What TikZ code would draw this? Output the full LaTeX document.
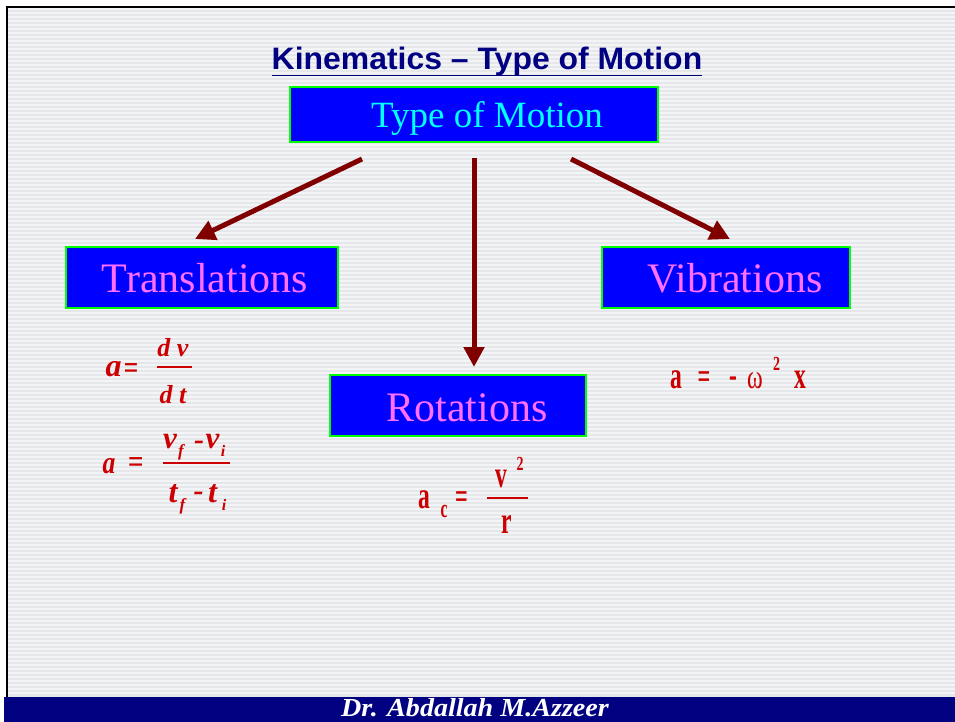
\documentclass[tikz,border=0pt]{standalone}
\usepackage{fontspec}
\usepackage{graphicx}
\setmainfont{Liberation Serif}
\newfontfamily\arialfont{Liberation Sans}
\usetikzlibrary{arrows.meta}
\definecolor{navy}{RGB}{0,0,128}
\definecolor{slidebg}{RGB}{229,231,235}
\definecolor{boxblue}{RGB}{0,0,255}
\definecolor{boxgreen}{RGB}{0,255,0}
\definecolor{cyantext}{RGB}{0,255,255}
\definecolor{pinktext}{RGB}{255,110,255}
\definecolor{arrowred}{RGB}{128,0,0}
\definecolor{eqred}{RGB}{204,0,0}
\newcommand{\cond}[2]{\scalebox{#1}[1]{#2}}
\tikzset{
  motionbox/.style={draw=boxgreen, line width=1.3pt, fill=boxblue, inner sep=0pt},
  boxlabel/.style={text=pinktext, font=\fontsize{42}{46}\selectfont, inner sep=0pt, anchor=base},
  flowarrow/.style={draw=arrowred, line width=5pt, -{Triangle[length=20pt,width=20pt]}},
  eqi/.style={text=eqred, inner sep=0pt, anchor=base, font=\bfseries\itshape\fontsize{#1}{#1}\selectfont},
  equ/.style={text=eqred, inner sep=0pt, anchor=base, font=\bfseries\fontsize{#1}{#1}\selectfont},
  eqr/.style={text=eqred, inner sep=0pt, anchor=base, font=\fontsize{#1}{#1}\selectfont},
  fracbar/.style={draw=eqred, line width=1.2pt}
}
\begin{document}
\begin{tikzpicture}[x=1pt,y=-1pt]
\useasboundingbox (0,0) rectangle (955,722);
\fill[white] (0,0) rectangle (955,722);
% slide background with stripes
\fill[slidebg] (7,8) rectangle (955,697);
\foreach \yy in {9,13,...,695} {
  \draw[white, opacity=0.55, line width=1.6pt] (8,\yy) -- (955,\yy);
}
% border
\draw[black, line width=2.2pt] (7,697) -- (7,7) -- (955,7);
% footer
\fill[navy] (4,697) rectangle (955,722);
\node[text=white, font=\bfseries\itshape\fontsize{26}{28}\selectfont, anchor=base, inner sep=0pt] (footer) at (475,716) {\cond{1.08}{Dr. Abdallah M.Azzeer}};

% title
\node[text=navy, font=\arialfont\bfseries\fontsize{31}{34}\selectfont, anchor=base, inner sep=0pt] (title) at (487,70) {\cond{1.03}{Kinematics – Type of Motion}};
\draw[navy, line width=1.6pt] (272,75.5) -- (702,75.5);

% boxes
\node[motionbox, minimum width=368pt, minimum height=55pt] (top) at (474,114.5) {};
\node[boxlabel, text=cyantext, font=\fontsize{37}{42}\selectfont] (toplbl) at (487,128) {Type of Motion};

\node[motionbox, minimum width=272pt, minimum height=61pt] (trans) at (202,277.5) {};
\node[boxlabel] (translbl) at (205,292) {Translations};

\node[motionbox, minimum width=248pt, minimum height=61pt] (vib) at (726,277.5) {};
\node[boxlabel] (viblbl) at (735,292) {Vibrations};

\node[motionbox, minimum width=256pt, minimum height=61pt] (rot) at (458,405.5) {};
\node[boxlabel] (rotlbl) at (467,421) {Rotations};

% arrows
\coordinate (a1s) at (362,159);
\coordinate (a1e) at (195,239);
\coordinate (a2s) at (474,158);
\coordinate (a2e) at (474,367);
\coordinate (a3s) at (571,159);
\coordinate (a3e) at (730,239);
\draw[flowarrow] (a1s) -- (a1e);
\draw[flowarrow] (a2s) -- (a2e);
\draw[flowarrow] (a3s) -- (a3e);

% Translation equation 1
\node[eqi=32] (e1a) at (113.5,376) {a};
\node[eqi=32] (e1eq) at (131,378) {\cond{0.8}{=}};
\node[eqi=26] (e1n) at (173,356) {d v};
\draw[fracbar] (157,367) -- (192,367);
\node[eqi=26] (e1d) at (173,403) {d t};

% Translation equation 2
\node[eqi=32] (e2a) at (109,473) {\cond{0.8}{a}};
\node[eqi=32] (e2eq) at (135.5,472) {\cond{0.85}{=}};
\node[eqi=31] (e2v1) at (170,448) {v};
\node[eqi=17] (e2f1) at (181,456) {f};
\node[eqi=30] (e2m1) at (199,449) {-};
\node[eqi=31] (e2v2) at (212.5,448) {v};
\node[eqi=16] (e2i1) at (223,456) {i};
\draw[fracbar] (163,463) -- (230,463);
\node[eqi=32] (e2t1) at (173,502) {t};
\node[eqi=17] (e2f2) at (182.5,510) {f};
\node[eqi=30] (e2m2) at (198.5,500) {-};
\node[eqi=32] (e2t2) at (212.5,502) {t};
\node[eqi=16] (e2i2) at (224,510) {i};

% Rotation equation
\node[equ=38] (e3a) at (424,508) {\cond{0.62}{a}};
\node[equ=26] (e3c) at (444,517) {\cond{0.6}{c}};
\node[equ=36] (e3eq) at (461.5,508) {\cond{0.62}{=}};
\node[equ=38] (e3n) at (501,487) {\cond{0.62}{v}};
\node[equ=20] (e3sq) at (520,470) {\cond{0.7}{2}};
\draw[fracbar] (487,498) -- (528,498);
\node[equ=38] (e3d) at (507,533) {\cond{0.62}{r}};

% Vibration equation
\node[equ=38] (e4a) at (676,388) {\cond{0.62}{a}};
\node[equ=36] (e4eq) at (704,388) {\cond{0.62}{=}};
\node[equ=38] (e4m) at (733,387) {\cond{0.62}{-}};
\node[eqr=34] (e4w) at (755,388) {\cond{0.7}{ω}};
\node[equ=20] (e4sq) at (776.5,370) {\cond{0.7}{2}};
\node[equ=38] (e4x) at (800,388) {\cond{0.62}{x}};
\end{tikzpicture}
\end{document}
